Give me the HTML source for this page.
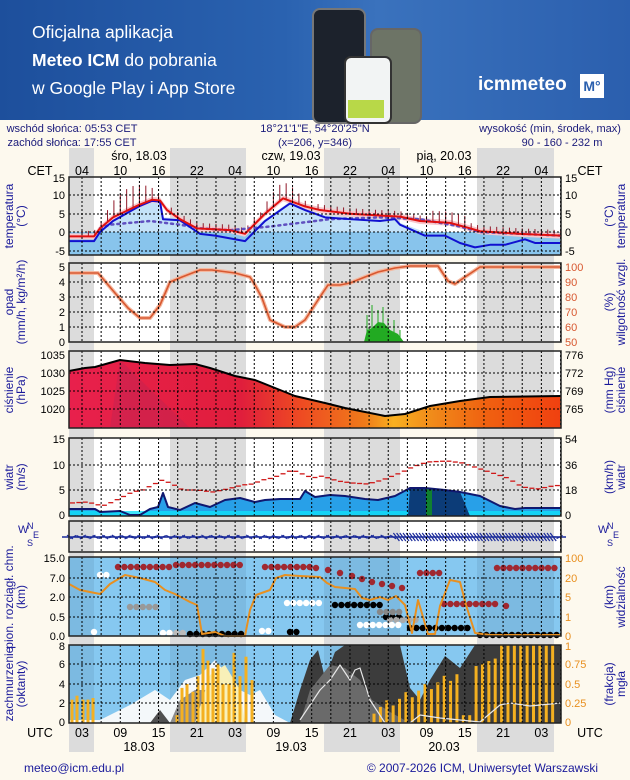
<!DOCTYPE html>
<html><head><meta charset="utf-8">
<style>
body{margin:0;width:630px;height:780px;overflow:hidden;background:#fdf9ee;font-family:"Liberation Sans",sans-serif;}
#ban{position:absolute;left:0;top:0;width:630px;height:120px;background:linear-gradient(90deg,#1d4f9c 0%,#2a62b0 45%,#3a72bd 60%,#2b5fae 100%);}
#ban .t{position:absolute;left:32px;color:#fff;font-size:17.5px;font-family:"Liberation Sans",sans-serif;}
svg{position:absolute;left:0;top:0}
</style></head><body>
<div id="ban">
<div class="t" style="top:22px">Oficjalna aplikacja</div>
<div class="t" style="top:50px"><b>Meteo ICM</b> do pobrania</div>
<div class="t" style="top:78px">w Google Play i App Store</div>
<div style="position:absolute;left:312px;top:8px;width:50px;height:112px;background:#1c222c;border-radius:8px;border:2px solid #777"></div>
<div style="position:absolute;left:370px;top:28px;width:48px;height:92px;background:#6d7466;border-radius:8px;border:2px solid #666"></div>
<div style="position:absolute;left:344px;top:56px;width:44px;height:64px;background:#f2f4f4;border-radius:7px;border:2px solid #333"></div>
<div style="position:absolute;left:348px;top:100px;width:36px;height:18px;background:#b8d848"></div>
<div style="position:absolute;left:478px;top:74px;color:#fff;font-size:19px;font-weight:bold">icmmeteo</div>
<div style="position:absolute;left:580px;top:74px;width:24px;height:24px;background:#fff;color:#2a5fae;font-weight:bold;font-size:14px;text-align:center;line-height:24px">M°</div>
</div>
<svg id="s" width="630" height="780" xmlns="http://www.w3.org/2000/svg" font-family="Liberation Sans, sans-serif">
<g id="bg"></g>
<g id="dat"></g>
<g id="grid"></g>
<g fill="#1a1a7a" font-size="11" text-anchor="middle">
<text x="72" y="132">wschód słońca: 05:53 CET</text>
<text x="72" y="146">zachód słońca: 17:55 CET</text>
<text x="315" y="132">18°21'1"E, 54°20'25"N</text>
<text x="315" y="146">(x=206,  y=346)</text>
<text x="550" y="132">wysokość (min, środek, max)</text>
<text x="562" y="146">90 - 160 - 232 m</text>
</g>
<g fill="#000" font-size="12.5" text-anchor="middle">
<text x="139" y="160">śro, 18.03</text><text x="291" y="160">czw, 19.03</text><text x="444" y="160">pią, 20.03</text>
<text x="40" y="175">CET</text><text x="590" y="175">CET</text>
<text x="40" y="737">UTC</text><text x="590" y="737">UTC</text>
<text x="139" y="751">18.03</text><text x="291" y="751">19.03</text><text x="444" y="751">20.03</text>
</g>
<g id="hl" fill="#000" font-size="12.5" text-anchor="middle"></g>
<g id="ticks" fill="#000" font-size="11"></g>
<g fill="#1a1a9a" font-size="12" text-anchor="middle">
<text transform="translate(13,216) rotate(-90)">temperatura</text><text transform="translate(25,216) rotate(-90)">(°C)</text>
<text transform="translate(613,216) rotate(-90)">(°C)</text><text transform="translate(625,216) rotate(-90)">temperatura</text>
<text transform="translate(13,302) rotate(-90)">opad</text><text transform="translate(25,302) rotate(-90)">(mm/h, kg/m²/h)</text>
<text transform="translate(613,302) rotate(-90)">(%)</text><text transform="translate(625,302) rotate(-90)">wilgotność wzgl.</text>
<text transform="translate(13,390) rotate(-90)">ciśnienie</text><text transform="translate(25,390) rotate(-90)">(hPa)</text>
<text transform="translate(613,390) rotate(-90)">(mm Hg)</text><text transform="translate(625,390) rotate(-90)">ciśnienie</text>
<text transform="translate(13,477) rotate(-90)">wiatr</text><text transform="translate(25,477) rotate(-90)">(m/s)</text>
<text transform="translate(613,477) rotate(-90)">(km/h)</text><text transform="translate(625,477) rotate(-90)">wiatr</text>
<text transform="translate(13,597) rotate(-90)">pion. rozciągł. chm.</text><text transform="translate(25,597) rotate(-90)">(km)</text>
<text transform="translate(613,597) rotate(-90)">(km)</text><text transform="translate(625,597) rotate(-90)">widzialność</text>
<text transform="translate(13,684) rotate(-90)">zachmurzenie</text><text transform="translate(25,684) rotate(-90)">(oktanty)</text>
<text transform="translate(613,684) rotate(-90)">(frakcja)</text><text transform="translate(625,684) rotate(-90)">mgła</text>
</g>
<g fill="#1a1a9a" font-size="11">
<text x="18" y="533">W</text><text x="27" y="529" font-size="9">N</text><text x="27" y="546" font-size="9">S</text><text x="33" y="538" font-size="9">E</text>
<text x="598" y="533">W</text><text x="607" y="529" font-size="9">N</text><text x="607" y="546" font-size="9">S</text><text x="613" y="538" font-size="9">E</text>
</g>
<g fill="#1a1a9a" font-size="12">
<text x="24" y="772">meteo@icm.edu.pl</text>
<text x="598" y="772" text-anchor="end">© 2007-2026 ICM, Uniwersytet Warszawski</text>
</g>
</svg>
<script>
const NS="http://www.w3.org/2000/svg";
function el(g,t,a){const e=document.createElementNS(NS,t);for(const k in a)e.setAttribute(k,a[k]);document.getElementById(g).appendChild(e);return e;}
const L=69,R=561;
const panels=[[177,255,'w'],[263,342,'w'],[351,428,'w'],[438,516,'w'],[521,552,'w'],[557,636,'b'],[645,723,'b']];
const bands=[[69,94],[170,246],[324,400],[477,554]];
bands.forEach(b=>el('bg','rect',{x:b[0],y:148,width:b[1]-b[0],height:604,fill:'#dcdcdc'}));
panels.forEach(p=>{
 el('bg','rect',{x:L,y:p[0],width:R-L,height:p[1]-p[0],fill:p[2]=='w'?'#fff':'#86c8f0'});
 bands.forEach(b=>el('bg','rect',{x:b[0],y:p[0],width:b[1]-b[0],height:p[1]-p[0],fill:p[2]=='w'?'#dcdcdc':'rgba(60,90,120,0.12)'}));
});
function pts(a){return a.map(p=>p.join(',')).join(' ');}
function line(a,c,w,ex){return el('dat','polyline',Object.assign({points:pts(a),fill:'none',stroke:c,'stroke-width':w,'stroke-linejoin':'round'},ex||{}));}
function poly(a,c,ex){return el('dat','polygon',Object.assign({points:pts(a),fill:c},ex||{}));}
function interp(a,x){for(let i=0;i<a.length-1;i++){if(x>=a[i][0]&&x<=a[i+1][0]){let f=(x-a[i][0])/(a[i+1][0]-a[i][0]);return a[i][1]+f*(a[i+1][1]-a[i][1]);}}return a[a.length-1][1];}
const ty=T=>232-3.66*T;
poly([[69,232],[561,232],[561,255],[69,255]],'#88c4ec');
const red=[[69,-1.2],[94,-1.2],[100,1],[113,4],[139,7.4],[152,8.8],[160,8.6],[167,6],[180,3.5],[197,1],[230,0.5],[245,-0.5],[265,5],[283,9.2],[305,7],[320,6],[350,5],[380,4.5],[400,4.2],[420,3],[450,2.5],[470,1],[480,0.2],[520,-0.5],[561,-1]];
const blue=[[69,-2.5],[94,-2.5],[100,0],[113,3],[139,7],[152,8.5],[160,8.3],[163,3.5],[180,3.2],[200,-0.5],[215,-1],[245,-2.5],[265,3],[290,7.8],[305,6],[325,4],[350,3.5],[380,3],[395,3.5],[400,2],[425,-1],[445,-1],[460,-3],[475,-4.2],[490,-3.5],[505,-3.5],[525,-2],[535,-3],[561,-3]];
poly([[69,232]].concat(blue.map(p=>[p[0],Math.min(ty(p[1]+0.5),232)])).concat([[561,232]]),'#c4e2f8');
poly(red.map(p=>[p[0],ty(p[1]+0.8)]).concat(red.slice().reverse().map(p=>[p[0],ty(p[1]-0.8)])),'#f8c8cc');
for(let x=82;x<R;x+=6.38){let h=(x-82)/6.38;let v=0;
 if(h>2&&h<13)v=Math.sin((h-2)/11*Math.PI)*6;else if(h>27&&h<36)v=Math.sin((h-27)/9*Math.PI)*4.5;else if(h>54&&h<60)v=3;else v=1.5;
 let T=interp(red,x);el('dat','line',{x1:x,x2:x,y1:ty(T),y2:ty(T+v),stroke:'#901828','stroke-width':1});}
const pur=[[100,1],[110,2],[150,3],[180,2],[200,1],[230,0.5],[270,1.5],[300,2.5],[330,3.5],[380,4],[420,3.5],[460,1.5],[480,0],[561,-1]];
line(pur.map(p=>[p[0],ty(p[1])]),'#6050c0',2.5,{'stroke-dasharray':'2,4','stroke-linecap':'round'});
line(blue.map(p=>[p[0],ty(p[1])]),'#1010d0',2);
line(red.map(p=>[p[0],ty(p[1])]),'#e01010',2);
const hum=[[69,273],[98,273],[115,293],[128,308],[140,318],[150,318],[160,305],[170,282],[182,277],[200,270],[212,270],[235,273],[250,277],[255,285],[262,298],[270,320],[285,327],[295,327],[305,320],[318,300],[328,285],[340,285],[350,283],[365,277],[378,272],[395,268],[410,266],[425,266],[438,266],[448,281],[455,284],[465,277],[480,267],[561,267]];
line(hum,'#f4b8a0',4);line(hum,'#d85830',1.6);
poly([[364,342],[367,330],[372,328],[378,322],[384,323],[390,330],[398,334],[404,342]],'#22aa22');
[[367,315],[372,305],[378,310],[383,307],[388,318],[394,320],[400,330]].forEach(s=>el('dat','line',{x1:s[0],x2:s[0],y1:342,y2:s[1],stroke:'#22aa22'}));
const pr=[[69,371],[85,368],[95,367],[120,360],[145,363],[170,365],[195,364],[210,368],[235,376],[255,380],[275,388],[295,396],[325,403],[345,408],[385,416],[405,414],[430,406],[460,401],[490,397],[561,396]];
const gd=el('bg','linearGradient',{id:'pg',x1:0,x2:1,y1:0,y2:0});
[['0','#e8204c'],['0.35','#e01e3c'],['0.47','#ee4a22'],['0.6','#f07a1a'],['0.66','#f8b020'],['0.74','#f08a1a'],['0.85','#f06010'],['1','#f04010']].forEach(s=>{const t=document.createElementNS(NS,'stop');t.setAttribute('offset',s[0]);t.setAttribute('stop-color',s[1]);gd.appendChild(t);});
poly(pr.concat([[561,428],[69,428]]),'url(#pg)');
poly([[110,428],[120,360],[190,428]],'rgba(160,40,90,0.25)');
line(pr,'#000',2);
const wm=[[69,509],[95,509],[100,512],[120,511],[130,515],[140,515],[150,509],[158,507],[163,493],[168,507],[180,510],[195,503],[210,507],[225,500],[240,498],[255,502],[265,500],[280,499],[300,499],[305,491],[315,497],[330,495],[345,496],[365,499],[378,500],[395,496],[410,488],[425,488],[445,490],[460,492],[480,496],[500,506],[515,509],[525,508],[561,508]];
poly(wm.concat([[561,516],[69,516]]),'#28a0e8');
poly([[69,511],[561,511],[561,516],[69,516]],'#10e0f8',{opacity:0.8});
const wd=wm.filter(p=>p[0]>=408&&p[0]<=470);poly([[408,516]].concat(wd).concat([[470,516]]),'#0c3c78');
poly([[426,516],[426,488],[432,488],[432,516]],'#108030');
const gu=[[69,503],[85,502],[100,506],[110,502],[120,497],[130,492],[140,490],[150,485],[160,480],[170,484],[180,490],[195,490],[210,492],[225,489],[240,485],[250,484],[260,480],[270,478],[290,470],[300,474],[310,478],[320,476],[335,481],[350,483],[365,484],[380,480],[400,472],[410,467],[425,462],[445,461],[460,463],[475,468],[490,473],[505,478],[520,487],[535,489],[550,486],[561,485]];
for(let x=70;x<R;x+=6.38)el('dat','line',{x1:x,x2:x+5,y1:interp(gu,x),y2:interp(gu,x),stroke:'#d01818','stroke-width':1.3});
line(wm,'#101870',2);
el('dat','line',{x1:62,x2:566,y1:537,y2:537,stroke:'#1a2a9a','stroke-width':1.5});
for(let x=70;x<R;x+=3.2){let a=(x>395&&x<555)?-1:((Math.sin(x*0.7)*0.5));
 el('dat','line',{x1:x-3,y1:537+a*4,x2:x+3,y2:537-a*4,stroke:'#1a2a9a','stroke-width':1.2});}
function dots(y,x0,x1,c,s){for(let x=x0;x<=x1;x+=6.38)el('dat','circle',{cx:x,cy:y,r:3.2,fill:c,stroke:s||'none'});}
dots(567,118,170,'#a02830');dots(565,176,243,'#a02830');dots(567,265,310,'#a02830');
[[316,568],[328,570],[340,573],[352,576],[362,579],[372,582],[382,584],[392,586],[402,588]].forEach(p=>el('dat','circle',{cx:p[0],cy:p[1],r:3.2,fill:'#a02830'}));
dots(573,420,440,'#a02830');dots(604,444,500,'#a02830');dots(606,506,506,'#a02830');dots(568,497,557,'#a02830');
dots(634,190,243,'#000');dots(632,290,300,'#000');dots(605,335,380,'#000');dots(617,386,405,'#000');dots(628,410,470,'#000');dots(635,480,557,'#000');
dots(607,130,160,'#999');dots(612,380,400,'#888');dots(620,390,420,'#aaa');dots(633,170,185,'#bbb');
dots(633,163,170,'#fff');dots(603,287,320,'#fff');dots(625,360,400,'#fff');dots(575,100,112,'#fff');dots(632,94,94,'#fff');dots(631,262,270,'#fff');
const vis=[[69,584],[80,590],[90,592],[100,594],[110,584],[125,575],[140,578],[155,582],[165,590],[175,594],[190,602],[197,605],[202,634],[215,632],[225,636],[245,636],[250,610],[256,595],[270,590],[276,578],[285,575],[300,576],[320,577],[327,583],[335,587],[345,588],[355,589],[362,598],[370,600],[380,597],[388,600],[396,596],[405,605],[412,633],[418,600],[428,634],[435,634],[440,606],[450,580],[460,582],[466,605],[475,633],[490,635],[561,635]];
line(vis,'#e89020',2);
poly([[290,723],[300,690],[310,660],[318,650],[325,678],[335,652],[345,645],[400,645],[410,688],[420,700],[430,680],[445,656],[460,668],[475,645],[561,645],[561,723]],'#3c3c3c');
poly([[300,723],[310,690],[330,665],[345,668],[360,680],[372,700],[390,712],[410,723]],'#6a6a6a');
poly([[69,720],[100,720],[130,705],[155,690],[170,700],[185,680],[200,675],[215,660],[225,672],[240,690],[250,695],[260,690],[275,715],[290,723],[69,723]],'#f4f8fa');
poly([[170,723],[180,700],[195,690],[205,690],[215,705],[230,723]],'#8c8c8c');
poly([[195,723],[210,675],[225,665],[240,690],[245,723]],'#f8f0b8');
poly([[150,723],[160,710],[170,723]],'#505050');
function fog(x,f){el('dat','rect',{x:x-1.5,y:723-78*f,width:3,height:78*f,fill:'#f4b020'});}
[[72,.3],[77,.35],[83,.3],[88,.3],[93,.32]].forEach(p=>fog(p[0],p[1]));
[[177,.1],[182,.45],[187,.5],[193,.4],[198,.6],[203,.95],[208,.8],[213,.7],[218,.75],[223,.5],[229,.5],[234,.9],[240,.6],[246,.85],[252,.55]].forEach(p=>fog(p[0],p[1]));
for(let x=374,i=0;x<558;x+=6.38,i++){let f=Math.min(1,0.12+i*0.035+((i%3)*0.05));if(x>460&&x<470)f=0.1;if(x>470)f=Math.min(1,0.7+(x-470)/200);if(x>500)f=1;fog(x,f);}
line([[300,720],[320,690],[330,680],[340,665],[350,680],[355,670],[360,668],[370,700],[385,723],[410,723],[420,715],[440,718],[480,722],[500,705],[510,703],[530,706],[561,703]],'#e8e8e8',1.2);
for(let x=82;x<R;x+=19.14)panels.forEach(p=>el('grid','line',{x1:x,x2:x,y1:p[0],y2:p[1],stroke:'#000','stroke-width':1,'stroke-dasharray':'2,2'}));
function hg(ys){ys.forEach(y=>el('grid','line',{x1:L,x2:R,y1:y,y2:y,stroke:'#000','stroke-width':1,'stroke-dasharray':'2,2'}));}
hg([195,214,232,251]);hg([282,297,312,327]);hg([373,391,409]);hg([465,490]);hg([578,597,617]);hg([664,684,703]);
panels.forEach(p=>el('grid','rect',{x:L,y:p[0],width:R-L,height:p[1]-p[0],fill:'none',stroke:'#222','stroke-width':1.5}));
const cet=['04','10','16','22','04','10','16','22','04','10','16','22','04'],utc=['03','09','15','21','03','09','15','21','03','09','15','21','03'];
cet.forEach((t,i)=>{let x=82+38.28*i;el('hl','text',{x:x,y:175}).textContent=t;el('hl','text',{x:x,y:737}).textContent=utc[i];});
function tk(x,y,t,anc,col){const e=el('ticks','text',{x:x,y:y+4,'text-anchor':anc});e.textContent=t;if(col)e.setAttribute('fill',col);}
[[15,178],[10,195],[5,214],[0,232],[-5,251]].forEach(p=>{tk(65,p[1],p[0],'end');tk(565,p[1],p[0],'start');});
[5,4,3,2,1,0].forEach((v,i)=>tk(65,267+i*15,v,'end'));
[100,90,80,70,60,50].forEach((v,i)=>tk(565,267+i*15,v,'start','#d85830'));
[[1035,355],[1030,373],[1025,391],[1020,409]].forEach(p=>tk(65,p[1],p[0],'end'));
[[776,355],[772,373],[769,391],[765,409]].forEach(p=>tk(565,p[1],p[0],'start'));
[[15,439],[10,465],[5,490],[0,515]].forEach(p=>tk(65,p[1],p[0],'end'));
[[54,439],[36,465],[18,490],[0,515]].forEach(p=>tk(565,p[1],p[0],'start'));
[['15.0',558],['7.0',578],['2.0',597],['0.5',617],['0.0',636]].forEach(p=>tk(65,p[1],p[0],'end'));
[[100,558],[20,578],[5,597],[1,617],[0,636]].forEach(p=>tk(565,p[1],p[0],'start','#e89020'));
[[8,646],[6,664],[4,684],[2,703],[0,722]].forEach(p=>tk(65,p[1],p[0],'end'));
[[1,646],['0.75',664],['0.5',684],['0.25',703],[0,722]].forEach(p=>tk(565,p[1],p[0],'start','#e89020'));
</script>
</body></html>
